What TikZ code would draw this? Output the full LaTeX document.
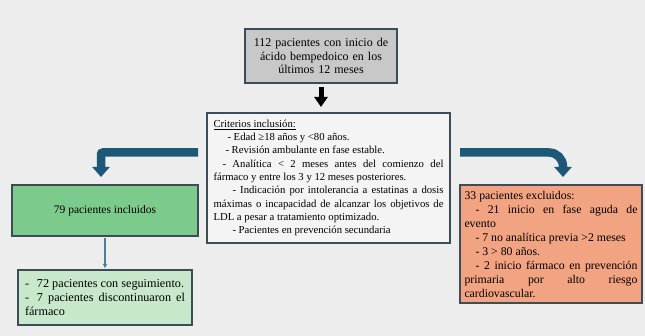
\documentclass[tikz,border=0pt]{standalone}
\usepackage{fontspec}
\setmainfont{Liberation Serif}
\usepackage{tikz}
\usetikzlibrary{arrows.meta}

\hyphenpenalty=10000
\exhyphenpenalty=10000

\definecolor{bggray}{HTML}{EDEDED}
\definecolor{boxline}{HTML}{3E4C58}
\definecolor{topgray}{HTML}{C8C8C8}
\definecolor{critfill}{HTML}{F4F4F4}
\definecolor{inclgreen}{HTML}{7CCB8D}
\definecolor{subgreen}{HTML}{C8E8CB}
\definecolor{exclorange}{HTML}{F2A382}
\definecolor{arrowblue}{HTML}{1E5878}
\definecolor{thinblue}{HTML}{4A7E9C}

\begin{document}
\begin{tikzpicture}
  [x=1pt, y=-1pt,
   box/.style={draw=boxline, line width=1.1pt, inner sep=0, outer sep=0},
   blockarrow/.style={line width=5pt, -{Triangle[width=13pt,length=10pt]}},
   bentarrow/.style={draw=arrowblue, line width=8.5pt, -{Triangle[width=17pt,length=10pt]}},
   thinarrow/.style={draw=thinblue, line width=1.1pt, -{Triangle[width=4pt,length=4pt]}}]

  % background
  \fill[bggray] (0, 0) rectangle (645, 336);
  \useasboundingbox (0, 0) rectangle (645, 336);

  % starting group
  \node[box, fill=topgray, minimum width=152, minimum height=54, text width=140,
        align=center, font=\fontsize{12}{13.5}\selectfont] (start) at (321, 56)
    {112 pacientes con inicio de\\ ácido bempedoico en los\\ últimos 12 meses};

  % inclusion criteria
  \node[box, fill=critfill, minimum width=243, minimum height=130, text width=230,
        align=justify, font=\fontsize{10.7}{13.3}\selectfont] (crit) at (328.5, 178)
    {\underline{Criterios inclusión:}\par
     \hspace*{14pt}- Edad ≥18 años y <80 años.\par
     \hspace*{12pt}- Revisión ambulante en fase estable.\par
     \hspace*{9pt}- Analítica < 2 meses antes del comienzo del\linebreak
     fármaco y entre los 3 y 12 meses posteriores.\par
     \hspace*{19pt}- Indicación por intolerancia a estatinas a dosis\linebreak
     máximas o incapacidad de alcanzar los objetivos de\linebreak
     LDL a pesar a tratamiento optimizado.\par
     \hspace*{19pt}- Pacientes en prevención secundaria};

  % included patients
  \node[box, fill=inclgreen, minimum width=186, minimum height=51,
        font=\fontsize{11.5}{13.5}\selectfont] (incl) at (105, 210.5)
    {79 pacientes incluidos};

  \node[box, fill=subgreen, minimum width=174, minimum height=55, text width=160,
        align=justify, font=\fontsize{12.2}{13.8}\selectfont] (sub) at (105, 297.5)
    {\hangindent=12pt\hangafter=1\makebox[12pt][l]{-}72 pacientes con seguimiento.\par
     \hangindent=12pt\hangafter=1\makebox[12pt][l]{-}7 pacientes discontinuaron el\linebreak
     fármaco};

  % excluded patients
  \node[box, fill=exclorange, minimum width=182, minimum height=118, text width=173,
        align=justify, font=\fontsize{11.8}{14}\selectfont] (excl) at (551, 244)
    {33 pacientes excluidos:\par
     \hspace*{11pt}- 21 inicio en fase aguda de\linebreak
     evento\par
     \hspace*{11pt}- 7 no analítica previa >2 meses\par
     \hspace*{11pt}- 3 > 80 años.\par
     \hspace*{11pt}- 2 inicio fármaco en prevención\linebreak
     primaria por alto riesgo\linebreak
     cardiovascular.};

  % arrows
  \draw[blockarrow] ([yshift=-4pt]start.south) -- ([yshift=6pt]start.south |- crit.north);
  \draw[bentarrow, rounded corners=2pt]
    ([xshift=-9pt, yshift=25.5pt]crit.west) -| ([xshift=-4pt, yshift=8pt]incl.north);
  \draw[bentarrow, rounded corners=14pt]
    ([xshift=10pt, yshift=25.5pt]crit.east) -| ([xshift=12pt, yshift=8pt]excl.north);
  \draw[thinarrow] ([yshift=-2pt]incl.south) -- ([yshift=2pt]sub.north);
\end{tikzpicture}
\end{document}
